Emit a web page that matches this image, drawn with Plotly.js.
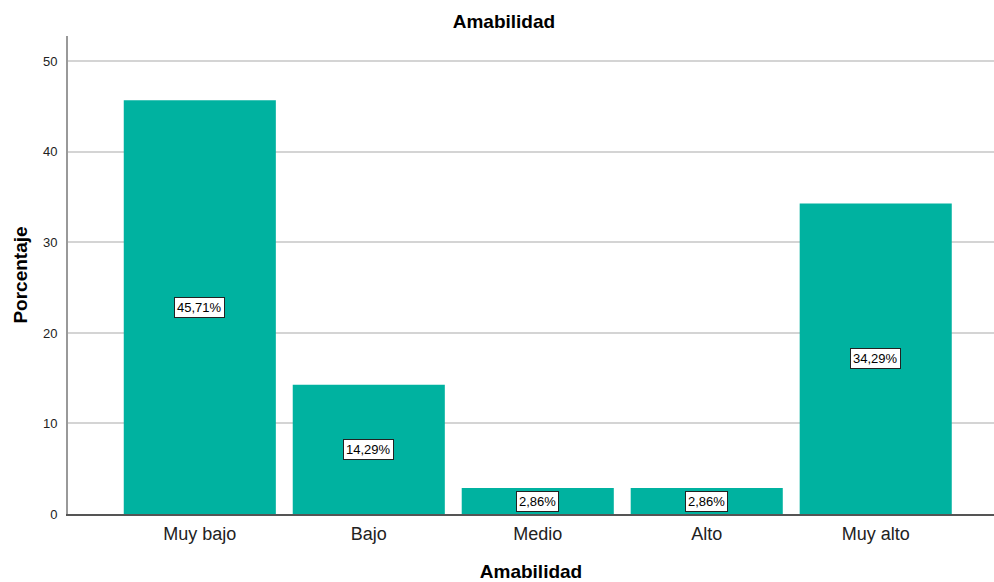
<!DOCTYPE html>
<html>
<head>
<meta charset="utf-8">
<script src="https://cdn.plot.ly/plotly-3.0.1.min.js"></script>
<style>html,body{margin:0;padding:0;background:#fff;}#chart{width:994px;height:582px;}</style>
</head>
<body>
<div id="chart"></div>
<script>
const categories = ["Muy bajo", "Bajo", "Medio", "Alto", "Muy alto"];
const percentages = [45.71, 14.29, 2.86, 2.86, 34.29];
const yTicks = [0, 10, 20, 30, 40, 50];
const chartTitle = "Amabilidad";
const xTitle = "Amabilidad";
const yTitle = "Porcentaje";

const font = "Liberation Sans, Arial, sans-serif";
const barColor = "#00b2a0";

const trace = {
  type: "bar",
  x: categories,
  y: percentages,
  marker: {color: barColor, line: {width: 0}},
  hoverinfo: "none"
};

const annotations = categories.map((c, i) => ({
  x: c, y: percentages[i] / 2, xref: "x", yref: "y",
  text: percentages[i].toFixed(2).replace(".", ",") + "%",
  showarrow: false,
  font: {family: font, size: 13, color: "#000"},
  bgcolor: "#ffffff", bordercolor: "#222222", borderwidth: 1, borderpad: 2
}));

const layout = {
  width: 994, height: 582,
  margin: {l: 68, r: 0, t: 36, b: 68},
  paper_bgcolor: "#fff", plot_bgcolor: "#fff",
  bargap: 0.1,
  showlegend: false,
  title: {text: chartTitle, font: {family: font, size: 19, color: "#000", weight: "bold"},
          x: 0.507, xref: "container", y: 0.964, yref: "container", yanchor: "middle"},
  xaxis: {
    type: "category",
    range: [-0.78, 4.70],
    showgrid: false, zeroline: false,
    showline: true, linecolor: "#555", linewidth: 1.5,
    ticks: "", ticklabelstandoff: 3,
    tickfont: {family: font, size: 18, color: "#222"},
    title: {text: xTitle, font: {family: font, size: 19, color: "#000", weight: "bold"}, standoff: 21}
  },
  yaxis: {
    range: [0, 52.8],
    tickvals: yTicks,
    showgrid: true, gridcolor: "#d4d4d4", gridwidth: 2,
    zeroline: false,
    showline: true, linecolor: "#999", linewidth: 2,
    ticks: "", ticklabelstandoff: 6,
    tickfont: {family: font, size: 13, color: "#222"},
    title: {text: yTitle, font: {family: font, size: 19, color: "#000", weight: "bold"}, standoff: 10}
  },
  annotations: annotations
};

Plotly.newPlot("chart", [trace], layout, {displayModeBar: false, staticPlot: true});
</script>
</body>
</html>
